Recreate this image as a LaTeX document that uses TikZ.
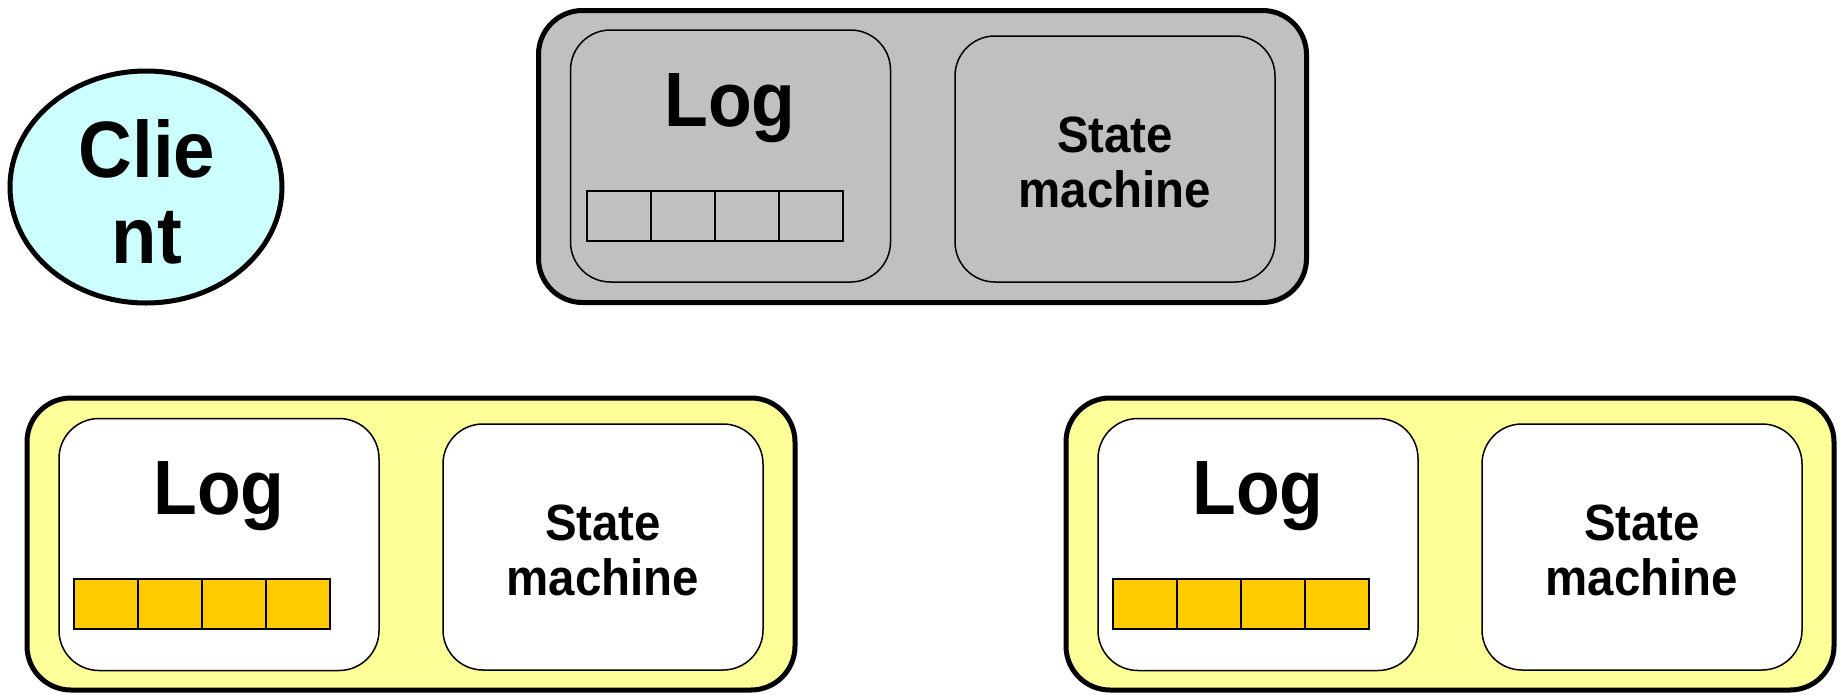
\documentclass[tikz,border=0pt]{standalone}
\usepackage{fontspec}
\setmainfont{Liberation Sans}
\usetikzlibrary{shapes.geometric}
\definecolor{srvgray}{HTML}{C0C0C0}
\definecolor{srvyellow}{HTML}{FFFF99}
\definecolor{clientcyan}{HTML}{CCFFFF}
\definecolor{entryfill}{HTML}{FFCC00}
\newcommand\narrowtxt[1]{\scalebox{0.93}[1]{#1}}
\tikzset{
  server/.style={draw=black, line width=5pt, rounded corners=44pt, minimum width=768pt, minimum height=292pt, inner sep=0pt},
  part/.style={draw=black, line width=1.5pt, rounded corners=40pt, minimum width=320pt, inner sep=0pt},
  logbox/.style={part, minimum height=252pt},
  smbox/.style={part, minimum height=246pt},
  entry/.style={draw=black, line width=2pt, minimum width=64pt, minimum height=50pt, inner sep=0pt},
  logtxt/.style={anchor=base, inner sep=0pt, font=\bfseries\fontsize{77pt}{77pt}\selectfont},
  smtxt/.style={align=center, inner sep=0pt, font=\bfseries\fontsize{51pt}{55pt}\selectfont},
}
\begin{document}
\begin{tikzpicture}[x=1pt, y=-1pt]
\useasboundingbox (0,0) rectangle (1841,694);

% client
\node[ellipse, draw=black, line width=5pt, fill=clientcyan, minimum width=272pt, minimum height=232pt, inner sep=0pt] (client) at (146,187) {};
\node[align=center, inner sep=0pt, font=\bfseries\fontsize{80pt}{86pt}\selectfont] (clienttxt) at (147,192) {\narrowtxt{Clie}\\\narrowtxt{nt}};

% leader server (top)
\node[server, fill=srvgray] (s1) at (922.5,156.5) {};
\node[logbox, fill=srvgray] (s1log) at (730.5,156) {};
\node[smbox, fill=srvgray] (s1sm) at (1115,159) {};
\node[logtxt] (s1logtxt) at (730,126) {\narrowtxt{Log}};
\node[smtxt] (s1smtxt) at (1115,162) {\narrowtxt{State}\\\narrowtxt{machine}};
\foreach \i in {0,...,3}
  \node[entry] (s1e\i) at (619+64*\i,216) {};

% follower servers (bottom)
\foreach \n/\dx in {s2/0, s3/1039} {
  \node[server, fill=srvyellow] (\n) at (411+\dx,544) {};
  \node[logbox, fill=white] (\n log) at (219+\dx,544.5) {};
  \node[smbox, fill=white] (\n sm) at (603+\dx,547) {};
  \node[logtxt] (\n logtxt) at (219+\dx,514) {\narrowtxt{Log}};
  \node[smtxt] (\n smtxt) at (603+\dx,550) {\narrowtxt{State}\\\narrowtxt{machine}};
  \foreach \i in {0,...,3}
    \node[entry, fill=entryfill] (\n e\i) at (106+\dx+64*\i,604) {};
}
\end{tikzpicture}
\end{document}
